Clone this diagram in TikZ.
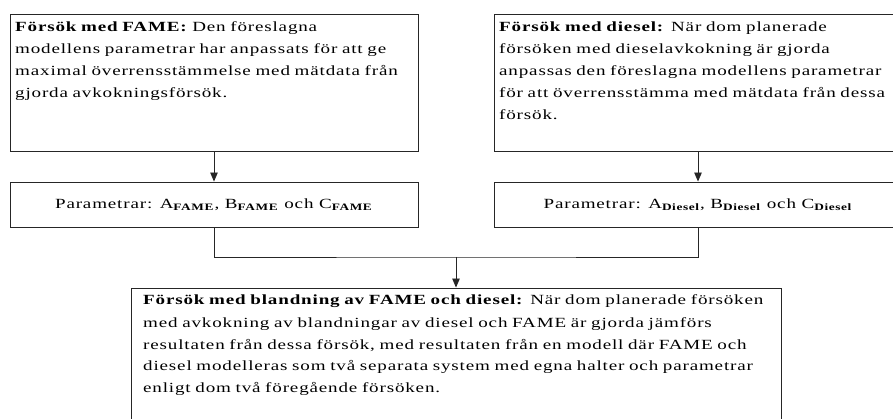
\documentclass[tikz,border=0pt]{standalone}
\usepackage{fontspec}
\setmainfont{Liberation Serif}[FakeStretch=1.36,LetterSpace=6]
\usetikzlibrary{arrows.meta,positioning}
\tikzset{box/.style={draw=black!85,line width=0.9pt,rectangle,inner sep=0pt},
boxtext/.style={inner sep=0pt,align=left,text width=#1,anchor=base west,
font=\fontsize{14}{22}\selectfont},
paramtext/.style={inner sep=0pt,font=\fontsize{14}{22}\selectfont},
link/.style={draw=black!85,line width=0.9pt},
>={Triangle[length=9pt,width=7.5pt]}}
\newcommand{\sub}[1]{\textsubscript{\textbf{#1}}}

\begin{document}
\begin{tikzpicture}[x=1pt,y=-1pt]
  \useasboundingbox (0,0) rectangle (893,419);
  \clip (0,0) rectangle (893,419);

  \node (fame) [box,minimum width=408pt,minimum height=137pt] at (214,82.5) {};
  \node (dies) [box,minimum width=408pt,minimum height=137pt] at (698,82.5) {};
  \node (famep) [box,minimum width=408pt,minimum height=45pt] at (214,204.5) {};
  \node (diesp) [box,minimum width=408pt,minimum height=45pt] at (698,204.5) {};
  \node (mix) [box,minimum width=650pt,minimum height=160pt] at (456,368) {};

  \node (famet) [boxtext=400pt] at (15,32) {\textbf{Försök med FAME:} Den föreslagna\\
    modellens parametrar har anpassats för att ge\\
    maximal överrensstämmelse med mätdata från\\
    gjorda avkokningsförsök.};
  \node (diest) [boxtext=400pt] at (499,32) {\textbf{Försök med diesel:} När dom planerade\\
    försöken med dieselavkokning är gjorda\\
    anpassas den föreslagna modellens parametrar\\
    för att överrensstämma med mätdata från dessa\\
    försök.};
  \node (famept) [paramtext] at (famep) {Parametrar: A\sub{FAME}, B\sub{FAME} och C\sub{FAME}};
  \node (diespt) [paramtext] at (diesp) {Parametrar: A\sub{Diesel}, B\sub{Diesel} och C\sub{Diesel}};
  \node (mixt) [boxtext=640pt] at (143,305) {\textbf{Försök med blandning av FAME och diesel:} När dom planerade försöken\\
    med avkokning av blandningar av diesel och FAME är gjorda jämförs\\
    resultaten från dessa försök, med resultaten från en modell där FAME och\\
    diesel modelleras som två separata system med egna halter och parametrar\\
    enligt dom två föregående försöken.};

  \coordinate (join) at (456,257);
  \draw [link,->] (fame) -- (famep);
  \draw [link,->] (dies) -- (diesp);
  \draw [link] (famep.south) |- (join) -| (diesp.south);
  \draw [link,->] (join) -- (mix);
\end{tikzpicture}
\end{document}
